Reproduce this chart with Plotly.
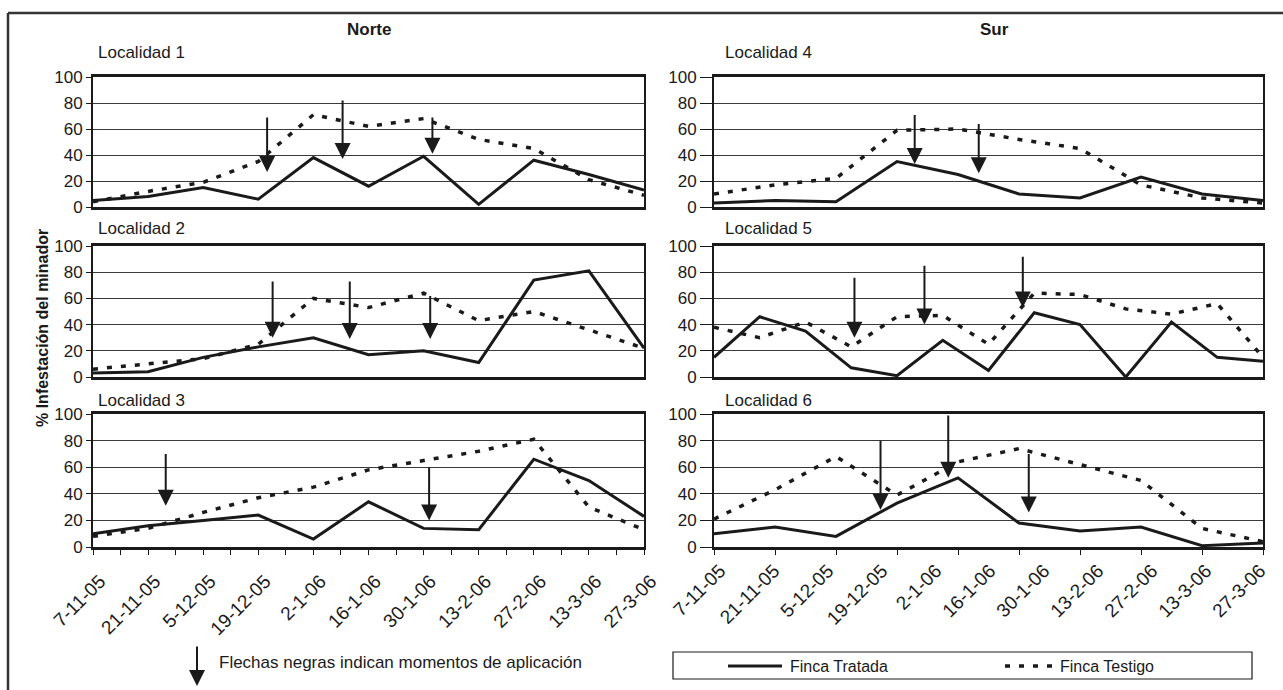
import numpy as np
import plotly.graph_objects as go

# ---- data -----------------------------------------------------------------
fechas = ["7-11-05", "21-11-05", "5-12-05", "19-12-05", "2-1-06", "16-1-06",
          "30-1-06", "13-2-06", "27-2-06", "13-3-06", "27-3-06"]

series_names = ["Finca Tratada", "Finca Testigo"]

# Norte
loc1_tratada = [5, 8, 15, 6, 38, 16, 39, 2, 36, 25, 13]
loc1_testigo = [4, 12, 19, 35, 71, 62, 68, 52, 45, 21, 9]
loc2_tratada = [3, 4, 15, 23, 30, 17, 20, 11, 74, 81, 22]
loc2_testigo = [6, 10, 14, 25, 60, 53, 64, 43, 50, 36, 22]
loc3_tratada = [10, 16, 20, 24, 6, 34, 14, 13, 66, 50, 23]
loc3_testigo = [8, 14, 26, 37, 45, 58, 65, 72, 81, 30, 13]

# Sur
loc4_tratada = [3, 5, 4, 35, 25, 10, 7, 23, 10, 5]
loc4_testigo = [10, 17, 22, 59, 60, 52, 45, 17, 7, 3]
loc5_tratada = [15, 46, 35, 7, 1, 28, 5, 49, 40, 0, 42, 15, 12]
loc5_testigo = [38, 30, 42, 23, 46, 47, 25, 64, 63, 52, 48, 56, 15]
loc6_tratada = [10, 15, 8, 33, 52, 18, 12, 15, 1, 3]
loc6_testigo = [21, 43, 68, 39, 64, 74, 62, 50, 14, 4]

# application moments: (position along the sampling axis, arrow start %, arrow tip %)
flechas_loc1 = [(3.16, 70, 27), (4.53, 83, 37), (6.16, 70, 41)]
flechas_loc2 = [(3.26, 74, 30), (4.66, 74, 29), (6.12, 63, 29)]
flechas_loc3 = [(1.32, 71, 31), (6.10, 61, 20)]
flechas_loc4 = [(3.29, 72, 33), (4.34, 65, 26)]
flechas_loc5 = [(3.07, 77, 30), (4.60, 86, 40), (6.75, 93, 53)]
flechas_loc6 = [(2.73, 81, 28), (3.84, 100, 52), (5.16, 71, 26)]

y_ticks = [0, 20, 40, 60, 80, 100]

# ---- layout helpers -------------------------------------------------------
W, H = 1283, 690
FONT = "Liberation Sans, Arial, sans-serif"
INK = "#1a1a1a"


def fx(px):
    return px / W


def fy(py):
    return 1 - py / H


left_dom = [fx(93), fx(644)]
right_dom = [fx(714), fx(1263)]
rows = [(77, 207), (246, 377), (414, 547)]

panels = [
    dict(n=1, title="Localidad 1", col=0, row=0, tr=loc1_tratada, te=loc1_testigo, fl=flechas_loc1),
    dict(n=2, title="Localidad 2", col=0, row=1, tr=loc2_tratada, te=loc2_testigo, fl=flechas_loc2),
    dict(n=3, title="Localidad 3", col=0, row=2, tr=loc3_tratada, te=loc3_testigo, fl=flechas_loc3),
    dict(n=4, title="Localidad 4", col=1, row=0, tr=loc4_tratada, te=loc4_testigo, fl=flechas_loc4),
    dict(n=5, title="Localidad 5", col=1, row=1, tr=loc5_tratada, te=loc5_testigo, fl=flechas_loc5),
    dict(n=6, title="Localidad 6", col=1, row=2, tr=loc6_tratada, te=loc6_testigo, fl=flechas_loc6),
]

fig = go.Figure()
layout = dict(
    template="none",
    width=W, height=H,
    margin=dict(l=0, r=0, t=0, b=0, pad=0),
    paper_bgcolor="white", plot_bgcolor="white",
    font=dict(family=FONT, color=INK, size=17),
    showlegend=False,
)
annotations = []
shapes = []

line_solid = dict(color=INK, width=3)
line_dot = dict(color=INK, width=3.5, dash="5px,9px")
arrow_style = dict(arrowhead=2, arrowsize=1.6, arrowwidth=2, arrowcolor=INK)
date_font = dict(size=19, family=FONT, color=INK)

for p in panels:
    n = p["n"]
    xs = "" if n == 1 else str(n)
    xa, ya = "x" + xs, "y" + xs
    npts = len(p["tr"])
    idx = list(range(npts))
    fig.add_trace(go.Scatter(x=idx, y=p["tr"], mode="lines", line=line_solid,
                             name=series_names[0], xaxis=xa, yaxis=ya))
    fig.add_trace(go.Scatter(x=idx, y=p["te"], mode="lines", line=line_dot,
                             name=series_names[1], xaxis=xa, yaxis=ya))

    xdom = left_dom if p["col"] == 0 else right_dom
    top, bot = rows[p["row"]]
    ydom = [fy(bot), fy(top)]
    bottom_row = p["row"] == 2

    xaxis = dict(domain=xdom, anchor=ya, range=[0, npts - 1], showgrid=False,
                 zeroline=False, showline=True, mirror=True, linecolor=INK,
                 linewidth=2.5, showticklabels=False, ticks="", automargin=False)
    if bottom_row and p["col"] == 0:
        # weekly tick marks, a date label every other week
        half = np.arange(0, npts - 0.5, 0.5)
        xaxis.update(ticks="outside", ticklen=5, tickwidth=1, tickcolor=INK,
                     tickvals=list(half),
                     ticktext=[fechas[int(v)] if v == int(v) else "" for v in half],
                     showticklabels=True, tickangle=-45, tickfont=date_font,
                     ticklabelshift=7, ticklabelstandoff=8)
    elif bottom_row:
        xaxis.update(ticks="outside", ticklen=5, tickwidth=1, tickcolor=INK,
                     tickvals=idx)
    layout["xaxis" + xs] = xaxis

    layout["yaxis" + xs] = dict(
        domain=ydom, anchor=xa, range=[0, 100], tickvals=y_ticks,
        showgrid=True, gridcolor="#3a3a3a", gridwidth=1.2, zeroline=False,
        showline=True, mirror=True, linecolor=INK, linewidth=2,
        ticks="outside", ticklen=5 if p["col"] == 0 else 12, tickcolor=INK,
        tickfont=dict(size=17, family=FONT, color=INK), automargin=False,
    )

    annotations.append(dict(x=fx(96 if p["col"] == 0 else 723),
                            y=fy(53 if p["row"] == 0 else (228 if p["row"] == 1 else 400)),
                            xref="paper", yref="paper", text=p["title"],
                            showarrow=False, xanchor="left", yanchor="middle",
                            font=dict(size=17)))

    for (xp, y0, y1) in p["fl"]:
        annotations.append(dict(x=xp, y=y1, ax=xp, ay=y0, xref=xa, yref=ya,
                                axref=xa, ayref=ya, text="", showarrow=True,
                                **arrow_style))

# date labels of the Sur block, one every 54 px across the plot width
label_px = 54
span = (1263 - 714) / label_px
layout["xaxis7"] = dict(domain=right_dom, anchor="y6", overlaying="x6",
                        range=[-0.11, span - 0.11], tickvals=list(range(len(fechas))),
                        ticktext=fechas, tickangle=-45, showgrid=False,
                        zeroline=False, showline=False, ticks="", automargin=False,
                        tickfont=date_font, ticklabelstandoff=8)
fig.add_trace(go.Scatter(x=[], y=[], xaxis="x7", yaxis="y6", hoverinfo="skip"))

# block headings and common y title
annotations += [
    dict(x=fx(369), y=fy(30), xref="paper", yref="paper", text="<b>Norte</b>",
         showarrow=False, xanchor="center", yanchor="middle", font=dict(size=17)),
    dict(x=fx(994), y=fy(30), xref="paper", yref="paper", text="<b>Sur</b>",
         showarrow=False, xanchor="center", yanchor="middle", font=dict(size=17)),
    dict(x=fx(42), y=fy(328), xref="paper", yref="paper",
         text="<b>% Infestación del minador</b>", textangle=-90,
         showarrow=False, xanchor="center", yanchor="middle", font=dict(size=16)),
]

# arrow key
annotations += [
    dict(x=fx(197), y=fy(686), ax=0, ay=-41, xref="paper", yref="paper",
         axref="pixel", ayref="pixel", text="", showarrow=True, **arrow_style),
    dict(x=fx(217), y=fy(662), xref="paper", yref="paper",
         text="Flechas negras indican momentos de aplicación", showarrow=False,
         xanchor="left", yanchor="middle", font=dict(size=17)),
]

# series key
shapes += [
    dict(type="rect", xref="paper", yref="paper", x0=fx(673), x1=fx(1252),
         y0=fy(679), y1=fy(652), line=dict(color=INK, width=1.2)),
    dict(type="line", xref="paper", yref="paper", x0=fx(728), x1=fx(782),
         y0=fy(666), y1=fy(666), line=line_solid),
    dict(type="line", xref="paper", yref="paper", x0=fx(1005), x1=fx(1056),
         y0=fy(666), y1=fy(666), line=dict(color=INK, width=3.5, dash="5px,9px")),
]
annotations += [
    dict(x=fx(788), y=fy(666), xref="paper", yref="paper", text=series_names[0],
         showarrow=False, xanchor="left", yanchor="middle", font=dict(size=16)),
    dict(x=fx(1058), y=fy(666), xref="paper", yref="paper", text=series_names[1],
         showarrow=False, xanchor="left", yanchor="middle", font=dict(size=16)),
]

# outer frame
shapes += [
    dict(type="line", xref="paper", yref="paper", x0=fx(8), x1=1.01, y0=fy(13), y1=fy(13),
         line=dict(color="#333", width=2.5)),
    dict(type="line", xref="paper", yref="paper", x0=fx(8), x1=fx(8), y0=fy(13), y1=-0.01,
         line=dict(color="#333", width=2.5)),
]

layout["annotations"] = annotations
layout["shapes"] = shapes
fig.update_layout(**layout)

fig.write_html("out.html")
